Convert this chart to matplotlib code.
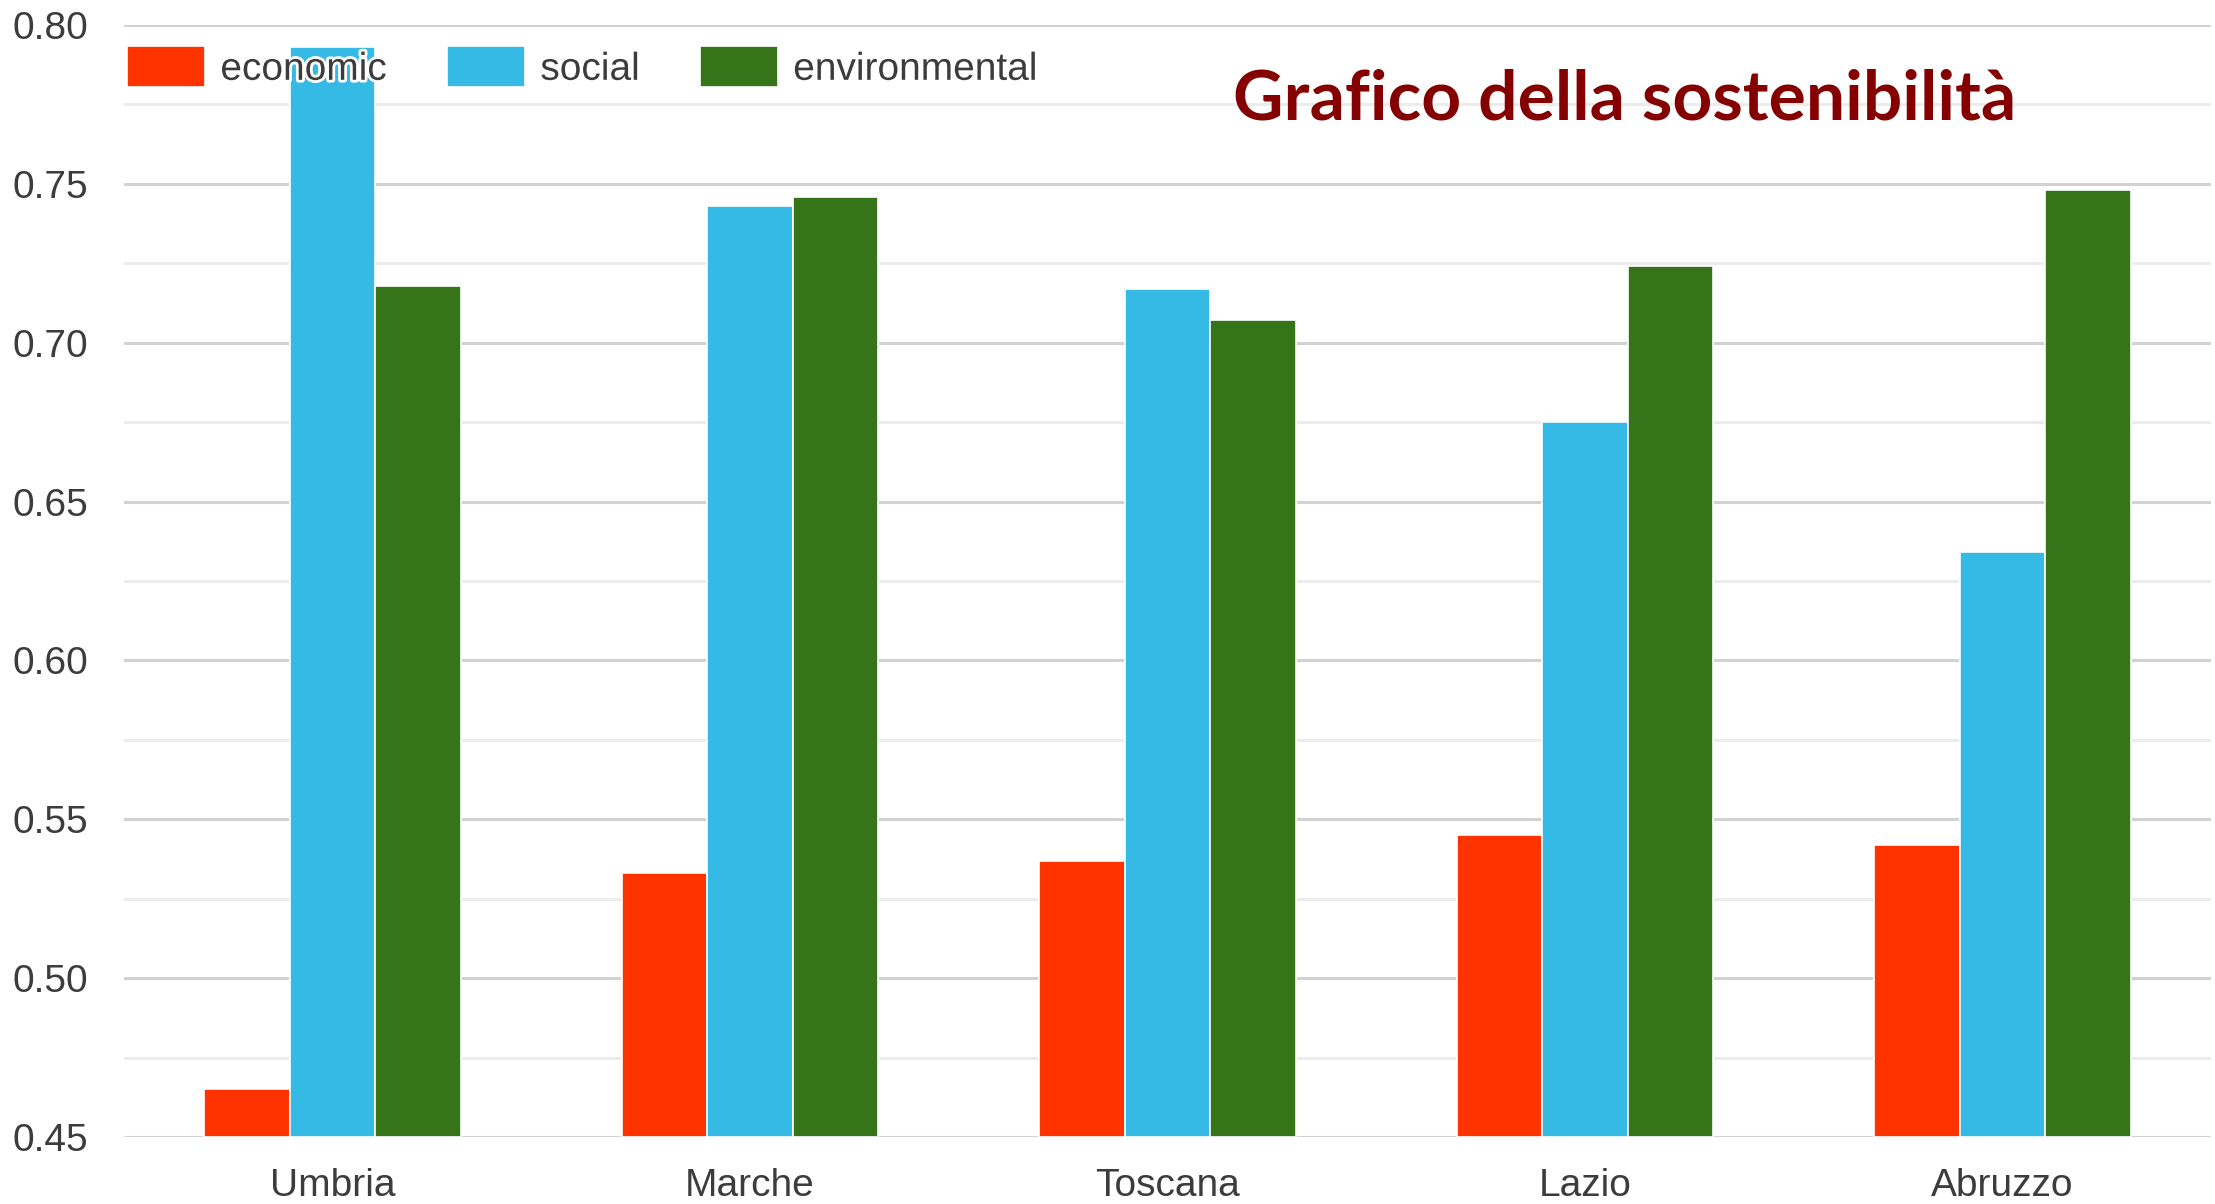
import numpy as np
import matplotlib
matplotlib.use("Agg")
import matplotlib.pyplot as plt
import matplotlib.patheffects as pe

regions = ["Umbria", "Marche", "Toscana", "Lazio", "Abruzzo"]
economic = [0.465, 0.533, 0.537, 0.545, 0.542]
social = [0.793, 0.743, 0.717, 0.675, 0.634]
environmental = [0.718, 0.746, 0.707, 0.724, 0.748]

series = [
    ("economic", economic, "#ff3300"),
    ("social", social, "#34bae4"),
    ("environmental", environmental, "#357419"),
]

plt.rcParams["font.family"] = ["Liberation Sans", "DejaVu Sans"]

fig = plt.figure(figsize=(22.15, 12.04), dpi=100)
ax = fig.add_axes([124 / 2215, 1 - 1137 / 1204, (2211 - 124) / 2215, (1137 - 25) / 1204])

x = np.arange(len(regions))
width = 0.205
for i, (name, vals, color) in enumerate(series):
    ax.bar(x + (i - 1) * width, np.array(vals) - 0.45, width, bottom=0.45,
           color=color, edgecolor="white", linewidth=1.2, label=name, zorder=3)

ax.set_xlim(-0.5, len(regions) - 0.5)
ax.set_ylim(0.45, 0.80)
ax.set_yticks(np.arange(0.45, 0.801, 0.05))
ax.set_yticks(np.arange(0.475, 0.80, 0.05), minor=True)
ax.set_yticklabels([f"{v:.2f}" for v in np.arange(0.45, 0.801, 0.05)])
ax.set_xticks(x)
ax.set_xticklabels(regions)

ax.grid(axis="y", which="major", color="#d2d2d2", linewidth=2.2, zorder=0)
ax.grid(axis="y", which="minor", color="#ececec", linewidth=2.2, zorder=0)
ax.set_axisbelow(True)
for s in ax.spines.values():
    s.set_visible(False)
ax.tick_params(axis="both", which="both", length=0, labelsize=28, labelcolor="#3c3c3c")
ax.tick_params(axis="y", pad=26)
ax.tick_params(axis="x", pad=22)

leg = fig.legend(*ax.get_legend_handles_labels(), loc="center left",
                 bbox_to_anchor=(127 / 2215, 1 - 67 / 1204), ncol=3, frameon=False,
                 fontsize=28, handlelength=2.0, handleheight=1.25, handletextpad=0.4,
                 columnspacing=1.55, borderaxespad=0.0, borderpad=0.0)
leg.set_zorder(5)
for t in leg.get_texts():
    t.set_color("#3c3c3c")
    t.set_path_effects([pe.withStroke(linewidth=4, foreground="white")])

fig.text(1233 / 2215, 1 - 100 / 1204, "Grafico della sostenibilità",
         fontsize=50, fontweight="bold", color="#850000", family=["Lato", "DejaVu Sans"],
         ha="left", va="center")

fig.savefig("out.png", dpi=100, facecolor="white")
